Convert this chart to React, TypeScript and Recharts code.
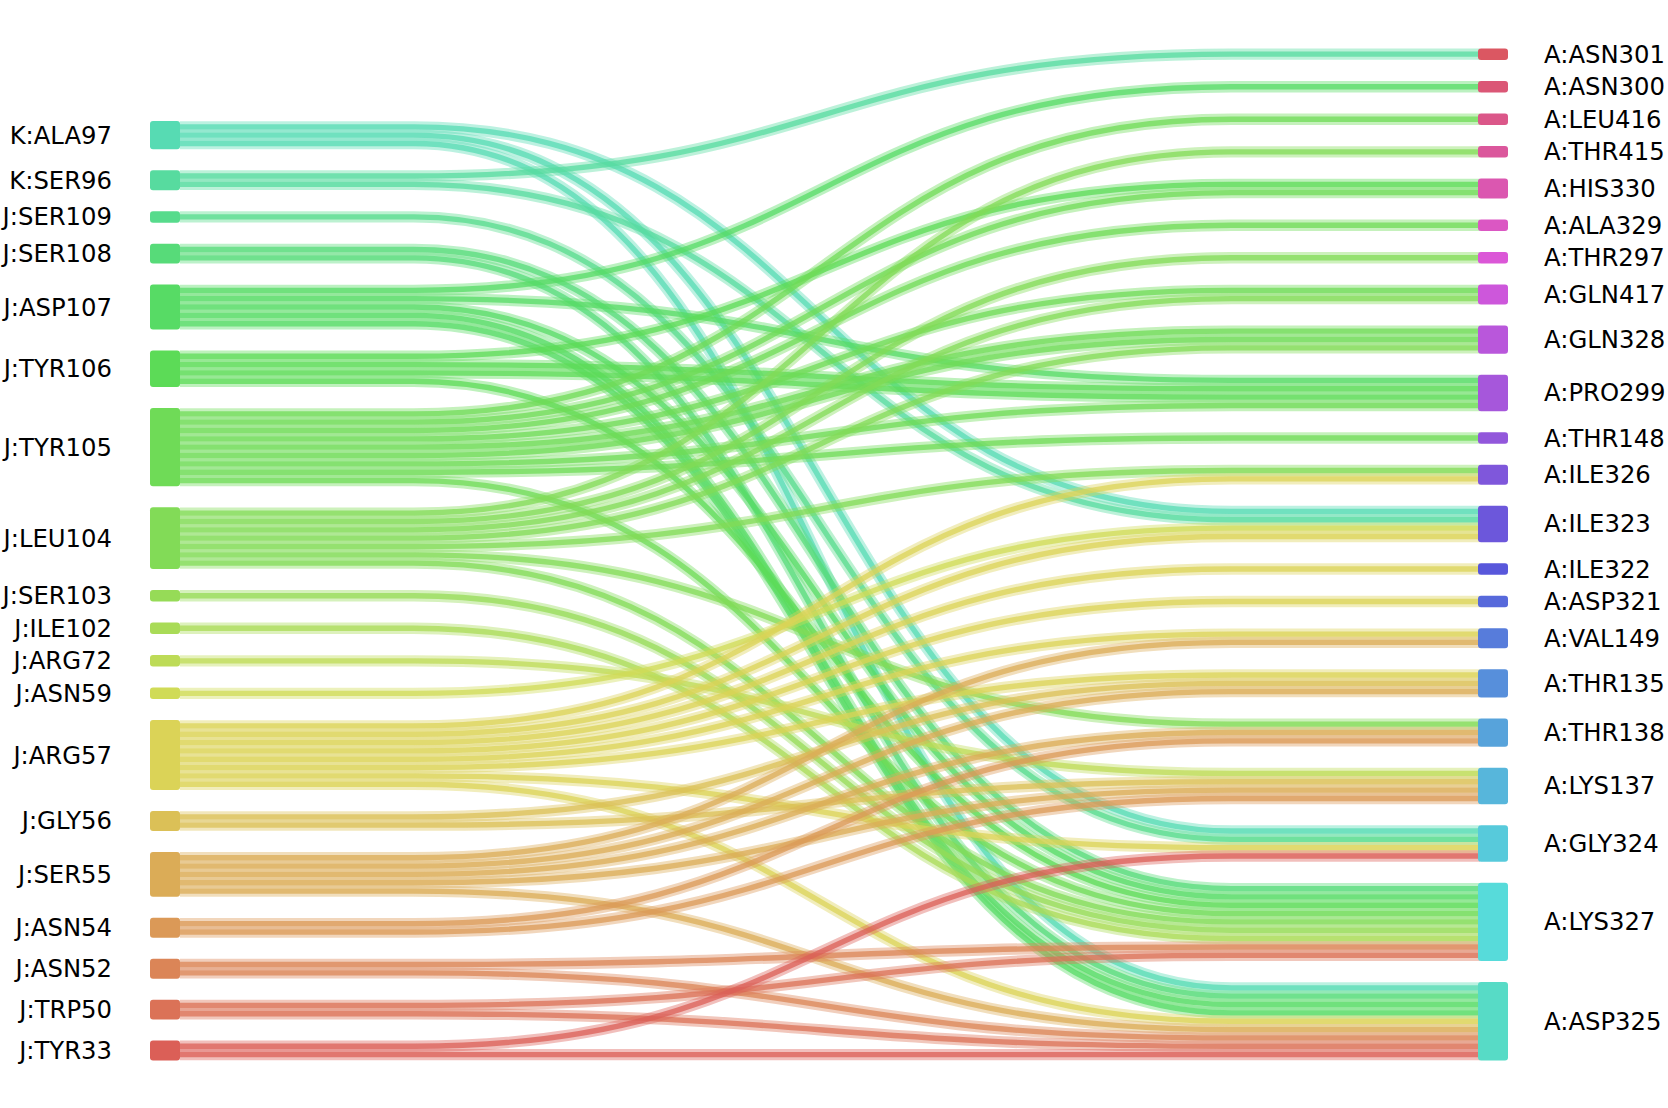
import React from "react";
import { Sankey } from "recharts";

// left column, top to bottom
const leftResidues = [
  "K:ALA97", "K:SER96", "J:SER109", "J:SER108", "J:ASP107", "J:TYR106",
  "J:TYR105", "J:LEU104", "J:SER103", "J:ILE102", "J:ARG72", "J:ASN59",
  "J:ARG57", "J:GLY56", "J:SER55", "J:ASN54", "J:ASN52", "J:TRP50", "J:TYR33",
];

// right column, top to bottom
const rightResidues = [
  "A:ASN301", "A:ASN300", "A:LEU416", "A:THR415", "A:HIS330", "A:ALA329",
  "A:THR297", "A:GLN417", "A:GLN328", "A:PRO299", "A:THR148", "A:ILE326",
  "A:ILE323", "A:ILE322", "A:ASP321", "A:VAL149", "A:THR135", "A:THR138",
  "A:LYS137", "A:GLY324", "A:LYS327", "A:ASP325",
];

// one entry per contact strand (value 1 each)
const contacts: [string, string[]][] = [
  ["K:ALA97", ["A:ILE323", "A:GLY324", "A:ASP325"]],
  ["K:SER96", ["A:ASN301", "A:ILE323"]],
  ["J:SER109", ["A:GLY324"]],
  ["J:SER108", ["A:LYS327", "A:ASP325"]],
  ["J:ASP107", ["A:ASN300", "A:PRO299", "A:LYS327", "A:ASP325", "A:ASP325"]],
  ["J:TYR106", ["A:HIS330", "A:PRO299", "A:PRO299", "A:LYS327"]],
  ["J:TYR105", ["A:LEU416", "A:HIS330", "A:ALA329", "A:GLN417", "A:GLN328", "A:GLN328", "A:PRO299", "A:THR148", "A:LYS327"]],
  ["J:LEU104", ["A:THR415", "A:THR297", "A:GLN417", "A:GLN328", "A:ILE326", "A:THR138", "A:LYS327"]],
  ["J:SER103", ["A:LYS327"]],
  ["J:ILE102", ["A:LYS327"]],
  ["J:ARG72", ["A:LYS137"]],
  ["J:ASN59", ["A:ILE323"]],
  ["J:ARG57", ["A:ILE326", "A:ILE323", "A:ILE322", "A:ASP321", "A:VAL149", "A:THR135", "A:GLY324", "A:ASP325"]],
  ["J:GLY56", ["A:THR135", "A:LYS137"]],
  ["J:SER55", ["A:VAL149", "A:THR135", "A:THR138", "A:LYS137", "A:ASP325"]],
  ["J:ASN54", ["A:THR138", "A:LYS137"]],
  ["J:ASN52", ["A:LYS327", "A:ASP325"]],
  ["J:TRP50", ["A:LYS327", "A:ASP325"]],
  ["J:TYR33", ["A:GLY324", "A:ASP325"]],
];

// invisible spacers: the left column has 3 fewer residues, so it is pushed down by 3 gaps
const leftSpacers = ["spacer-1", "spacer-2", "spacer-3"];
const rightSpacer = "spacer-end";
const SPACER_VALUE = 0.001;

const nodeNames = [...leftSpacers, ...leftResidues, ...rightResidues, rightSpacer];
const nodeIndex = (name: string) => nodeNames.indexOf(name);

const links: { source: number; target: number; value: number }[] = [];
contacts.forEach(([src, targets]) => {
  targets.forEach((t) => links.push({ source: nodeIndex(src), target: nodeIndex(t), value: 1 }));
});
leftSpacers.forEach((s) =>
  links.push({ source: nodeIndex(s), target: nodeIndex(rightSpacer), value: SPACER_VALUE })
);

const sankeyData = { nodes: nodeNames.map((name) => ({ name })), links };

// hls palette (h=0.01, l=0.6, s=0.65), numbered bottom-up: left column then right column
const paletteOrder = [...leftResidues].reverse().concat([...rightResidues].reverse());
const colorOf = (name: string) => {
  const i = paletteOrder.indexOf(name);
  const hue = ((0.01 + i / paletteOrder.length) % 1) * 360;
  return `hsl(${hue.toFixed(2)}, 65%, 60%)`;
};

const isSpacer = (name: string) => name.startsWith("spacer");

const ResidueNode = (props: any) => {
  const { x, y, width, height, payload } = props;
  if (!payload || isSpacer(payload.name)) return null;
  const isLeft = payload.depth === 0;
  return (
    <g>
      <rect x={x} y={y - 1.6} width={width} height={height + 3.2} rx={3} ry={3} fill={colorOf(payload.name)} />
      <text
        x={isLeft ? x - 38 : x + width + 36}
        y={y + height / 2}
        textAnchor={isLeft ? "end" : "start"}
        dominantBaseline="central"
        fontSize={24.3}
        fontFamily="DejaVu Sans"
        fill="#000"
      >
        {payload.name}
      </text>
    </g>
  );
};

const ContactLink = (props: any) => {
  const { sourceX, targetX, sourceY, targetY, linkWidth, payload } = props;
  if (linkWidth < 1) return null;
  const src = payload.source;
  const srcName = typeof src === "object" ? src.name : nodeNames[src];
  if (isSpacer(srcName)) return null;
  const span = targetX - sourceX;
  const x1 = sourceX + span * 0.18;
  const x2 = targetX - span * 0.19;
  const mid = (x1 + x2) / 2;
  const d = `M${sourceX},${sourceY} L${x1},${sourceY} C${mid},${sourceY} ${mid},${targetY} ${x2},${targetY} L${targetX + 2},${targetY}`;
  const color = colorOf(srcName);
  return (
    <g>
      <path d={d} fill="none" stroke={color} strokeWidth={linkWidth + 3} strokeOpacity={0.4} />
      <path d={d} fill="none" stroke={color} strokeWidth={Math.max(linkWidth - 3, 1)} strokeOpacity={0.75} />
    </g>
  );
};

export default function App() {
  return (
    <div style={{ position: "absolute", left: 0, top: 0 }}>
      <Sankey
        width={1668}
        height={1108}
        data={sankeyData}
        node={<ResidueNode />}
        link={<ContactLink />}
        nodeWidth={30}
        nodePadding={24.2}
        iterations={0}
        sort={false}
        margin={{ top: 50, left: 150, right: 160, bottom: 25 }}
      />
    </div>
  );
}
